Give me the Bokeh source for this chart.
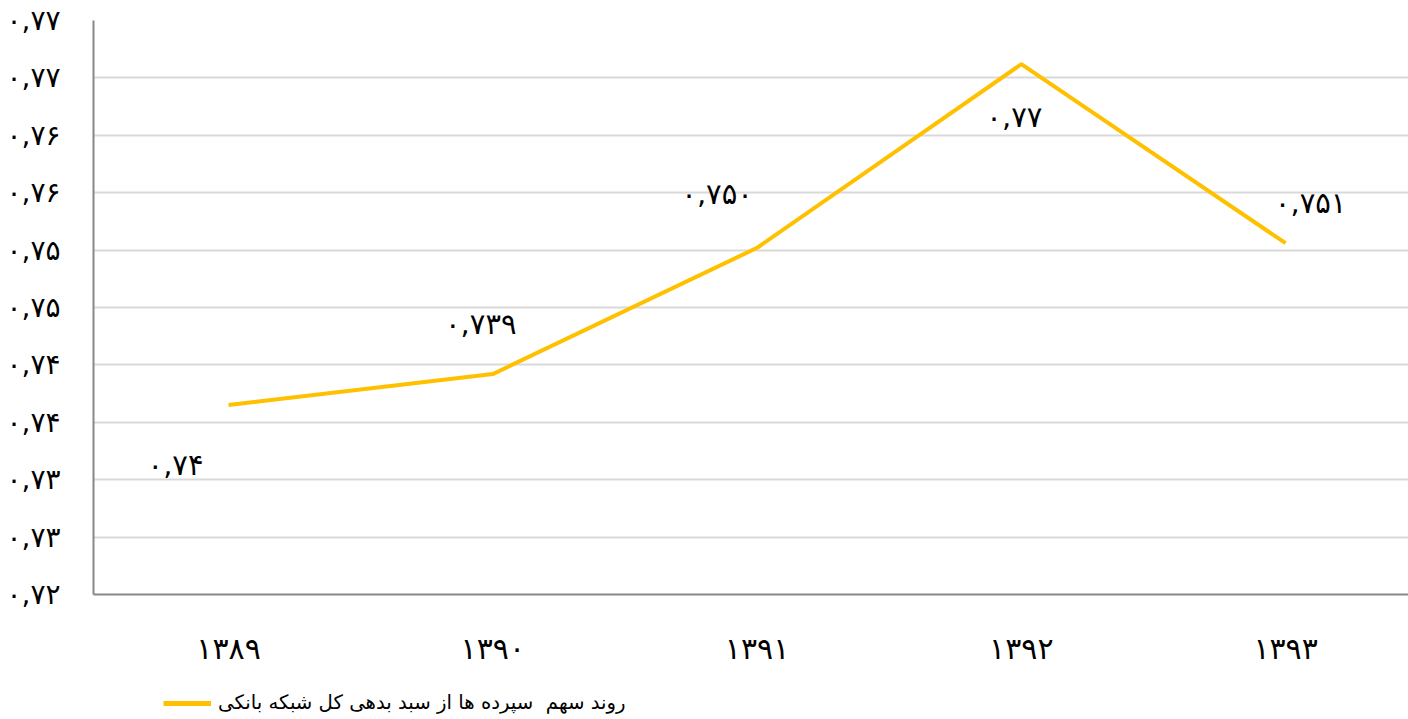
from bokeh.plotting import figure
from bokeh.layouts import column
from bokeh.models import ColumnDataSource, Range1d, FixedTicker, Legend, LegendItem
from bokeh.core.properties import value
from bokeh.embed import file_html
from bokeh.resources import INLINE

# ---- data ----
years = ["۱۳۸۹", "۱۳۹۰", "۱۳۹۱", "۱۳۹۲", "۱۳۹۳"]
shares = [0.7365, 0.7392, 0.7502, 0.7662, 0.7506]
point_labels = ["۰,۷۴", "۰,۷۳۹", "۰,۷۵۰", "۰,۷۷", "۰,۷۵۱"]
y_ticks = [0.720, 0.725, 0.730, 0.735, 0.740, 0.745, 0.750, 0.755, 0.760, 0.765, 0.770]
y_tick_labels = ["۰,۷۲", "۰,۷۳", "۰,۷۳", "۰,۷۴", "۰,۷۴", "۰,۷۵", "۰,۷۵",
                 "۰,۷۶", "۰,۷۶", "۰,۷۷", "۰,۷۷"]
series_name = "روند سهم  سپرده ها از سبد بدهی کل شبکه بانکی"

# label placement offsets (screen px), styling only
label_dx = [-53, -12, -40, -7, 25]
label_dy = [60, -50, -54, 53, -40]

FONT = "DejaVu Sans"
LINE_COLOR = "#FFC000"
xs = list(range(len(years)))

p = figure(width=1408, height=680, output_backend="svg", toolbar_location=None,
           x_range=Range1d(-0.511, 4.465), y_range=Range1d(0.720, 0.770),
           min_border_left=93, min_border_right=0, min_border_top=20,
           min_border_bottom=86)
p.outline_line_color = None
p.background_fill_color = "white"

src = ColumnDataSource(dict(x=xs, y=shares, lab=point_labels, dx=label_dx, dy=label_dy))
main_line = p.line("x", "y", source=src, line_color=LINE_COLOR, line_width=4)
p.text("x", "y", text="lab", source=src, x_offset="dx", y_offset="dy",
       text_font=value(FONT), text_font_size="29px", text_color="black",
       text_align="center", text_baseline="middle")

# x axis
p.xaxis.ticker = FixedTicker(ticks=xs)
p.xaxis.major_label_overrides = {i: years[i] for i in xs}
p.xaxis.major_label_text_font = FONT
p.xaxis.major_label_text_font_size = "30px"
p.xaxis.major_label_text_color = "black"
p.xaxis.major_label_standoff = 36
p.xaxis.major_tick_out = 0
p.xaxis.major_tick_in = 0
p.xaxis.major_tick_line_color = None
p.xaxis.minor_tick_line_color = None
p.xaxis.axis_line_color = "#878787"
p.xaxis.axis_line_width = 2
p.xgrid.grid_line_color = None

# y axis
p.yaxis.ticker = FixedTicker(ticks=y_ticks)
p.yaxis.major_label_overrides = {t: l for t, l in zip(y_ticks, y_tick_labels)}
p.yaxis.major_label_text_font = FONT
p.yaxis.major_label_text_font_size = "28px"
p.yaxis.major_label_text_color = "black"
p.yaxis.major_label_standoff = 33
p.yaxis.major_tick_out = 0
p.yaxis.major_tick_in = 0
p.yaxis.major_tick_line_color = None
p.yaxis.minor_tick_line_color = None
p.yaxis.axis_line_color = "#878787"
p.yaxis.axis_line_width = 2
p.ygrid.grid_line_color = "#d9d9d9"
p.ygrid.grid_line_width = 2

# legend strip below the chart (the series line is drawn out of view; only its
# legend entry shows)
lg = figure(width=1408, height=39, output_backend="svg", toolbar_location=None,
            x_range=Range1d(-0.511, 4.465), y_range=Range1d(0.720, 0.770),
            min_border_left=0, min_border_right=0, min_border_top=0, min_border_bottom=0)
lg.outline_line_color = None
lg.axis.visible = False
lg.grid.grid_line_color = None
lr = lg.line(x=[-5, -4], y=[0.0, 0.0], line_color=LINE_COLOR, line_width=5)
legend = Legend(items=[LegendItem(label=series_name, renderers=[lr])],
                location=(70, 5), orientation="horizontal",
                label_text_font=FONT, label_text_font_size="19.7px",
                label_text_color="black",
                glyph_width=48, border_line_color=None, background_fill_alpha=0,
                padding=0, margin=0, label_standoff=7)
lg.add_layout(legend)

layout = column(p, lg, spacing=0)
open("out.html", "w").write(file_html(layout, INLINE))
